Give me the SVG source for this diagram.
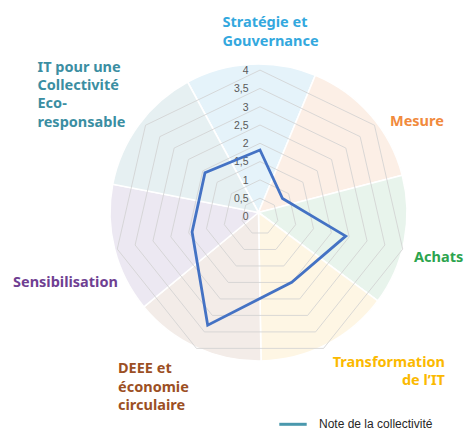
<svg xmlns="http://www.w3.org/2000/svg" width="465" height="431" viewBox="0 0 465 431">
<style>
.sec{stroke:#ffffff;stroke-width:1.6}
.grid{fill:none;stroke:#d0d0d0;stroke-width:0.8}
.tick{font-family:"Liberation Sans",Arial,sans-serif;font-size:10.5px;fill:#595959;text-anchor:end}
.lbl{font-family:"Noto Sans","Open Sans",sans-serif;font-size:14.5px;font-weight:bold}
.series{fill:none;stroke:#4472c4;stroke-width:2.8;stroke-linejoin:miter}
.leg{font-family:"Liberation Sans",Arial,sans-serif;font-size:12px;fill:#262626}
</style>
<rect width="465" height="431" fill="#ffffff"/>
<g id="background">
<path class="sec" fill="#e5f3fa" d="M258.5,212.5 L187.64,82 A148.5,148.5 0 0 1 315.33,75.3 Z"/>
<path class="sec" fill="#fcefe6" d="M258.5,212.5 L315.33,75.3 A148.5,148.5 0 0 1 402.27,175.32 Z"/>
<path class="sec" fill="#e8f4ec" d="M258.5,212.5 L402.27,175.32 A148.5,148.5 0 0 1 377.88,300.83 Z"/>
<path class="sec" fill="#fef6e4" d="M258.5,212.5 L377.88,300.83 A148.5,148.5 0 0 1 261.09,360.98 Z"/>
<path class="sec" fill="#f3ece8" d="M258.5,212.5 L261.09,360.98 A148.5,148.5 0 0 1 143.92,306.96 Z"/>
<path class="sec" fill="#ece8f2" d="M258.5,212.5 L143.92,306.96 A148.5,148.5 0 0 1 112.73,184.17 Z"/>
<path class="sec" fill="#e6f0f2" d="M258.5,212.5 L112.73,184.17 A148.5,148.5 0 0 1 187.64,82 Z"/>
</g>
<g id="grid">
<polygon class="grid" points="260,198.2 274.31,205.09 277.84,220.57 267.94,232.99 252.06,232.99 242.16,220.57 245.69,205.09"/>
<polygon class="grid" points="260,179.9 288.61,193.68 295.68,224.64 275.88,249.48 244.12,249.48 224.32,224.64 231.39,193.68"/>
<polygon class="grid" points="260,161.6 302.92,182.27 313.52,228.72 283.82,265.96 236.18,265.96 206.48,228.72 217.08,182.27"/>
<polygon class="grid" points="260,143.3 317.23,170.86 331.36,232.79 291.76,282.45 228.24,282.45 188.64,232.79 202.77,170.86"/>
<polygon class="grid" points="260,125 331.54,159.45 349.2,236.86 299.7,298.94 220.3,298.94 170.8,236.86 188.46,159.45"/>
<polygon class="grid" points="260,106.7 345.84,148.04 367.05,240.93 307.64,315.43 212.36,315.43 152.95,240.93 174.16,148.04"/>
<polygon class="grid" points="260,88.4 360.15,136.63 384.89,245 315.58,331.92 204.42,331.92 135.11,245 159.85,136.63"/>
<polygon class="grid" points="260,70.1 374.46,125.22 402.73,249.07 323.52,348.41 196.48,348.41 117.27,249.07 145.54,125.22"/>
</g>
<g id="axis-labels">
<text class="tick" x="248.5" y="220.3">0</text>
<text class="tick" x="248.5" y="202">0,5</text>
<text class="tick" x="248.5" y="183.7">1</text>
<text class="tick" x="248.5" y="165.4">1,5</text>
<text class="tick" x="248.5" y="147.1">2</text>
<text class="tick" x="248.5" y="128.8">2,5</text>
<text class="tick" x="248.5" y="110.5">3</text>
<text class="tick" x="248.5" y="92.2">3,5</text>
<text class="tick" x="248.5" y="73.9">4</text>
</g>
<g id="connectors">
<polygon id="series-note" class="series" points="260,150 282.5,198.5 345.7,236.1 291.7,282.3 207.7,325.2 192.1,232 205,172.7"/>
</g>
<g id="node-strategie">
<text class="lbl" fill="#33a8de" x="222.5" y="26.7">Stratégie et</text>
<text class="lbl" fill="#33a8de" x="222.5" y="45.7">Gouvernance</text>
</g>
<g id="node-mesure">
<text class="lbl" fill="#f18a3d" x="390" y="125.7">Mesure</text>
</g>
<g id="node-achats">
<text class="lbl" fill="#2ca44e" x="414" y="261.7">Achats</text>
</g>
<g id="node-transformation">
<text class="lbl" fill="#fbb900" x="445" y="366.7" text-anchor="end">Transformation</text>
<text class="lbl" fill="#fbb900" x="445" y="385" text-anchor="end">de l’IT</text>
</g>
<g id="node-deee">
<text class="lbl" fill="#9c4f24" x="118" y="373.3">DEEE et</text>
<text class="lbl" fill="#9c4f24" x="118" y="391.5">économie</text>
<text class="lbl" fill="#9c4f24" x="118" y="409.5">circulaire</text>
</g>
<g id="node-sensibilisation">
<text class="lbl" fill="#6f3f92" x="13" y="286.7">Sensibilisation</text>
</g>
<g id="node-it">
<text class="lbl" fill="#3b8ea2" x="37.5" y="71.7">IT pour une</text>
<text class="lbl" fill="#3b8ea2" x="37.5" y="90">Collectivité</text>
<text class="lbl" fill="#3b8ea2" x="37.5" y="108.3">Eco-</text>
<text class="lbl" fill="#3b8ea2" x="37.5" y="126.7">responsable</text>
</g>
<g id="legend">
<line x1="279.3" y1="424.3" x2="306.7" y2="424.3" stroke="#4a98ad" stroke-width="3"/>
<text class="leg" x="319" y="428">Note de la collectivité</text>
</g>
</svg>
